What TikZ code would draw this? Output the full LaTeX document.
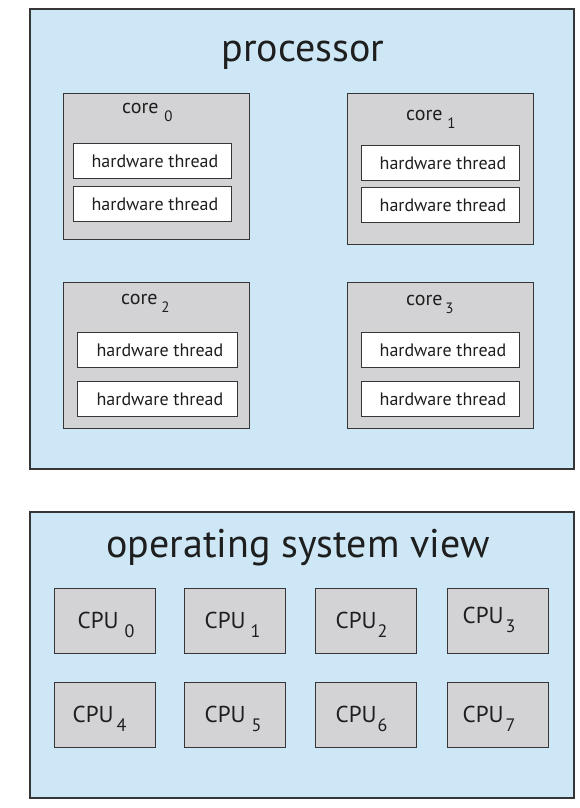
\documentclass[tikz,border=0pt]{standalone}
\usepackage{fontspec}
\setmainfont{PT Sans}
\definecolor{panel}{HTML}{CDE7F6}
\definecolor{unit}{HTML}{D3D3D5}
\definecolor{edge}{HTML}{363636}
\definecolor{ink}{HTML}{1E1E1E}
% lowered index digits for core and CPU names
\newcommand{\coresub}[1]{\raisebox{-8pt}{\fontsize{15}{15}\selectfont #1}}
\newcommand{\cpusub}[1]{\raisebox{-8.5pt}{\fontsize{18}{18}\selectfont #1}}
% text of a hardware thread box: left-set inside the box width
\newcommand{\hwt}{\makebox[158pt][l]{\hspace*{18pt}hardware thread}}
% CPU name inside its box: #1 left offset, #2 gap before the index, #3 index
\newcommand{\cpuname}[3]{\makebox[101pt][l]{\hspace*{#1}CPU\hspace*{#2}\cpusub{#3}}}
\tikzset{
  panelbox/.style={draw=edge, line width=1.7pt, fill=panel, anchor=north west, inner sep=0pt},
  corebox/.style={draw=edge, line width=1.3pt, fill=unit, anchor=north west, inner sep=0pt,
                  minimum width=186pt},
  threadbox/.style={draw=edge, line width=1.3pt, fill=white, anchor=north west, inner sep=0pt,
                  minimum width=158pt, minimum height=35pt, text=ink,
                  text height=13pt, text depth=0pt,
                  font=\fontsize{18}{18}\selectfont},
  cpubox/.style={draw=edge, line width=1.3pt, fill=unit, anchor=north west, inner sep=0pt,
                  minimum width=101pt, minimum height=65pt, text=ink,
                  text height=15pt, text depth=0pt,
                  font=\fontsize{23}{23}\selectfont},
  corelabel/.style={text=ink, font=\fontsize{20}{20}\selectfont, inner sep=0pt, anchor=base west},
  title/.style={text=ink, font=\fontsize{40}{40}\selectfont, inner sep=0pt, anchor=base}
}
\begin{document}
\begin{tikzpicture}[x=1pt,y=-1pt]
\useasboundingbox (0,0) rectangle (580,808);

% processor panel
\node[panelbox, minimum width=544pt, minimum height=460pt] (proc) at (29,8) {};
\node[title] (proctitle) at (303,62) {processor};

% cores
\node[corebox, minimum height=146pt] (core0) at (63,93) {};
\node[corebox, minimum height=151pt] (core1) at (347,93) {};
\node[corebox, minimum height=146pt] (core2) at (63,282) {};
\node[corebox, minimum height=146pt] (core3) at (347,282) {};

\node[corelabel] (lab0) at (122,113) {core\hspace*{6pt}\coresub{0}};
\node[corelabel] (lab1) at (406,120) {core\hspace*{5pt}\coresub{1}};
\node[corelabel] (lab2) at (121,304) {core\hspace*{4pt}\coresub{2}};
\node[corelabel] (lab3) at (406,305) {core\hspace*{3pt}\coresub{3}};

% hardware threads
\node[threadbox] (t00) at (73,143) {\hwt};
\node[threadbox] (t01) at (73,186) {\hwt};
\node[threadbox] (t10) at (361,145) {\hwt};
\node[threadbox] (t11) at (361,187) {\hwt};
\node[threadbox, minimum width=160pt] (t20) at (77,332) {\hwt};
\node[threadbox, minimum width=160pt] (t21) at (77,381) {\hwt};
\node[threadbox] (t30) at (361,332) {\hwt};
\node[threadbox] (t31) at (361,381) {\hwt};

% operating system view panel
\node[panelbox, minimum width=544pt, minimum height=286pt] (os) at (29,511) {};
\node[title] (ostitle) at (298,557) {operating system view};

% logical CPUs
\node[cpubox] (cpu0) at (54,588) {\cpuname{23pt}{6pt}{0}};
\node[cpubox] (cpu1) at (184,588) {\cpuname{20pt}{5pt}{1}};
\node[cpubox] (cpu2) at (315,588) {\cpuname{20pt}{1pt}{2}};
\node[cpubox, text height=5pt] (cpu3) at (447,588) {\cpuname{15pt}{2pt}{3}};
\node[cpubox] (cpu4) at (54,682) {\cpuname{18pt}{3pt}{4}};
\node[cpubox] (cpu5) at (184,682) {\cpuname{20pt}{6pt}{5}};
\node[cpubox] (cpu6) at (315,682) {\cpuname{20pt}{1pt}{6}};
\node[cpubox] (cpu7) at (447,682) {\cpuname{15pt}{2pt}{7}};
\end{tikzpicture}
\end{document}
